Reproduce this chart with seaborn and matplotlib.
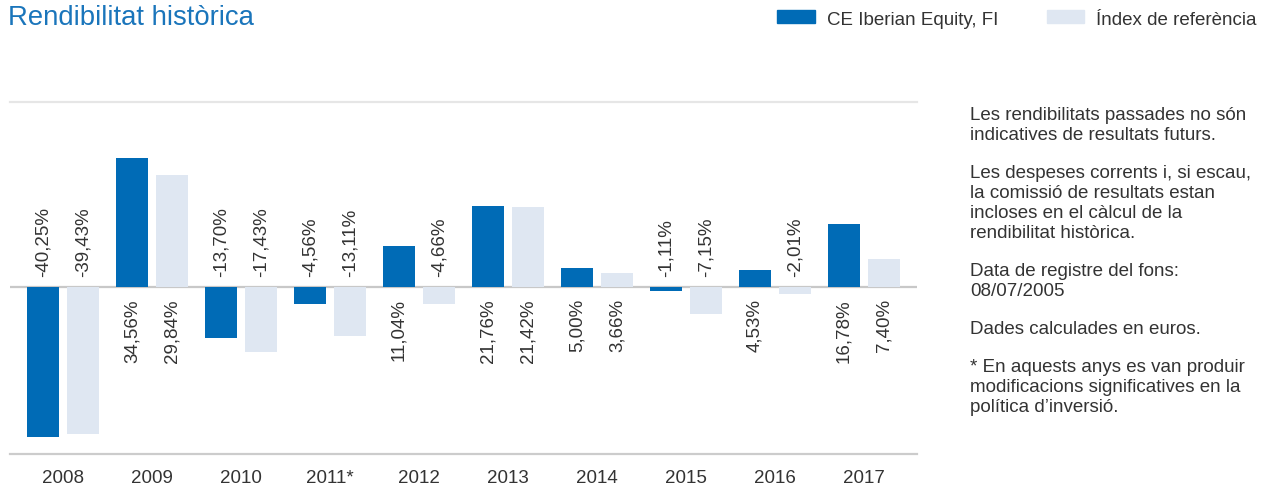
import matplotlib.pyplot as plt
import seaborn as sns
import pandas as pd

# dades
anys = ['2008', '2009', '2010', '2011*', '2012', '2013', '2014', '2015', '2016', '2017']
fons = [-40.25, 34.56, -13.70, -4.56, 11.04, 21.76, 5.00, -1.11, 4.53, 16.78]
index_ref = [-39.43, 29.84, -17.43, -13.11, -4.66, 21.42, 3.66, -7.15, -2.01, 7.40]
series = ['CE Iberian Equity, FI', 'Índex de referència']
colors = ['#006bb6', '#dfe7f2']

notes = [
    ['Les rendibilitats passades no són', 'indicatives de resultats futurs.'],
    ['Les despeses corrents i, si escau,', 'la comissió de resultats estan',
     'incloses en el càlcul de la', 'rendibilitat històrica.'],
    ['Data de registre del fons:', '08/07/2005'],
    ['Dades calculades en euros.'],
    ['* En aquests anys es van produir', 'modificacions significatives en la',
     'política d\u2019inversió.'],
]

df = pd.DataFrame({
    'any': anys * 2,
    'serie': [series[0]] * len(anys) + [series[1]] * len(anys),
    'valor': fons + index_ref,
})

sns.set_style('white')
plt.rcParams['font.family'] = ['Liberation Sans', 'DejaVu Sans']
text_color = '#333333'
fs = 13.5

W, H = 1270, 489
fig = plt.figure(figsize=(W / 100, H / 100), dpi=100)
ax = fig.add_axes([10 / W, 1 - 455 / H, 907 / W, 352 / H])

sns.barplot(data=df, x='any', y='valor', hue='serie', palette=colors,
            width=0.9, gap=0.2, saturation=1, linewidth=0, legend=False,
            ax=ax, zorder=3)

ax.set_xlim(-0.6, 9.6)
ax.set_ylim(-44.7, 49.5)
ax.axhline(0, color='#c8c8c8', lw=1.6, zorder=2)

for name, side in [('top', '#e6e6e6'), ('bottom', '#cccccc')]:
    ax.spines[name].set_visible(True)
    ax.spines[name].set_color(side)
    ax.spines[name].set_linewidth(1.6)
for name in ['left', 'right']:
    ax.spines[name].set_visible(False)

ax.set_xlabel('')
ax.set_ylabel('')
ax.set_yticks([])
ax.tick_params(axis='x', length=0, pad=11, labelsize=fs, labelcolor=text_color)

# etiquetes de valor, a l'altre costat del zero
for container, vals in zip(ax.containers, [fons, index_ref]):
    for bar, v in zip(container, vals):
        x = bar.get_x() + bar.get_width() / 2
        label = f'{v:.2f}%'.replace('.', ',')
        if v < 0:
            ax.annotate(label, (x, 0), xytext=(0, 8), textcoords='offset points',
                        rotation=90, ha='center', va='bottom', fontsize=fs,
                        color=text_color)
        else:
            ax.annotate(label, (x, 0), xytext=(0, -8), textcoords='offset points',
                        rotation=90, ha='center', va='top', fontsize=fs,
                        color=text_color)

# títol
fig.text(8 / W, 1 - 18 / H, 'Rendibilitat històrica', fontsize=19.8,
         color='#1a75bb', ha='left', va='center')

# llegenda
handles = [plt.Rectangle((0, 0), 1, 1, color=c) for c in colors]
fig.legend(handles, series, loc='center right', bbox_to_anchor=(1257 / W, 1 - 20 / H),
           ncol=2, frameon=False, fontsize=fs, handlelength=2.0, handleheight=0.68,
           handletextpad=0.65, columnspacing=2.6, borderpad=0, borderaxespad=0,
           labelcolor=text_color)

# notes de la dreta
y = 116
for para in notes:
    for line in para:
        fig.text(970 / W, 1 - y / H, line, fontsize=fs, color=text_color,
                 ha='left', va='center')
        y += 20
    y += 18

fig.savefig('out.png', dpi=100)
